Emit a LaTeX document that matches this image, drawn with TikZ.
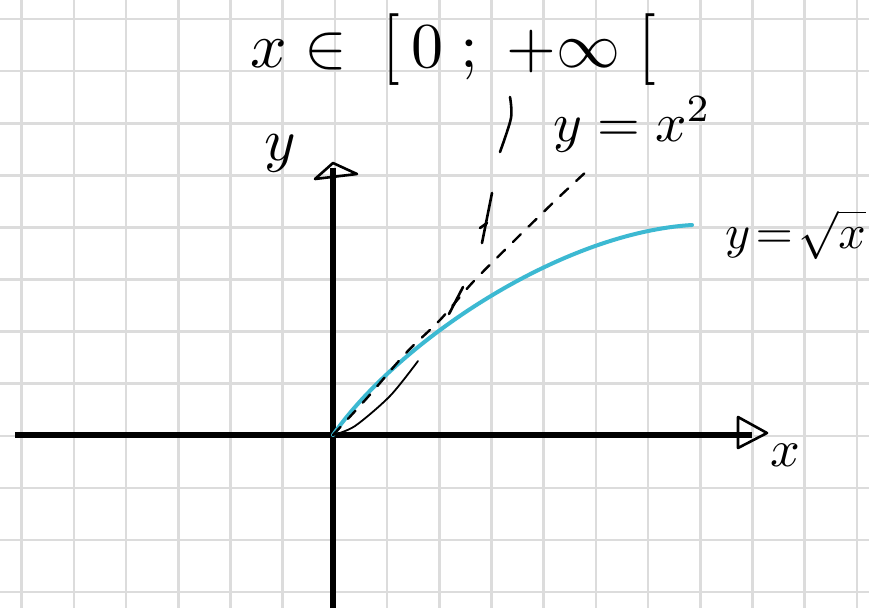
\documentclass[tikz,border=0pt]{standalone}
\usepackage{graphicx}
\definecolor{gridgray}{RGB}{220,220,220}
\definecolor{curveblue}{RGB}{60,185,210}
\newcommand{\tallbr}{\mathopen{\scalebox{1}[1.12]{$[$}}}
\newcommand{\tallbrc}{\mathclose{\scalebox{1}[1.12]{$[$}}}
\tikzset{
  gridline/.style={draw=gridgray,line width=2.6pt},
  axisline/.style={draw=black,line width=5.5pt},
  tipline/.style={draw=black,line width=2.6pt,line join=round,line cap=round},
  penline/.style={draw=black,line width=2.6pt,line cap=round,line join=round},
  thinpen/.style={draw=black,line width=1.8pt,line cap=round},
  sqrtcurve/.style={draw=curveblue,line width=4pt,line cap=round},
  dashcurve/.style={draw=black,line width=2.4pt,line cap=round,dash pattern=on 11pt off 11pt},
  lbl/.style={inner sep=0pt,outer sep=0pt,text=black},
}
\begin{document}
\begin{tikzpicture}[x=1pt,y=-1pt]
\useasboundingbox (0,0) rectangle (869,608);
\fill[white] (0,0) rectangle (869,608);
% grid
\foreach \k in {0,...,16} {
  \draw[gridline] ({21.7+52.2*\k},0) -- ({21.7+52.2*\k},608);
}
\foreach \k in {0,...,11} {
  \draw[gridline] (0,{19+52.1*\k}) -- (869,{19+52.1*\k});
}
% coordinates
\coordinate (O) at (333,435);
\coordinate (xstart) at (15,435);
\coordinate (xend) at (752,435);
\coordinate (ybot) at (333,608);
\coordinate (ytop) at (333,168);
\coordinate (sqend) at (692,225);
% axes
\draw[axisline] (xstart) -- (xend);
\draw[axisline] (ybot) -- (ytop);
% arrow tips (hand drawn open triangles)
\draw[tipline] (738,417) -- (767,433) -- (738,448) -- cycle;
\draw[tipline] (315,179) -- (333,163) -- (357,174) -- cycle;
% y = sqrt(x)
\draw[sqrtcurve] (O) .. controls (398,342) and (560,233) .. (sqend);
% dashed curve
\draw[dashcurve] plot[smooth] coordinates {(333,435) (367,398) (406,353) (440,320) (473,282) (518,237) (558,198) (588,170)};
% thin solid curve near origin
\draw[thinpen] plot[smooth] coordinates {(333,435) (355,426) (390,396) (418,361)};
% steep pen strokes
\draw[penline] (449,314) -- (463,287);
\draw[penline] (492,193) -- (482,243);
\draw[penline] (480,228) -- (487,223);
\draw[penline] plot[smooth] coordinates {(510,97) (511,118) (500,152)};
% labels
\node[lbl,anchor=base west] (dom) at (250,67) {\scalebox{6.4}{$x\in\;\tallbr\,0\;;\;+\infty\;\tallbrc$}};
\node[lbl,anchor=base west] (ylab) at (264,160) {\scalebox{6}{$y$}};
\node[lbl] (xlab) at (785,455) {\scalebox{5.2}{$x$}};
\node[lbl,anchor=base west] (parab) at (553,141) {\scalebox{5.5}{$y=x^2$}};
\node[lbl,anchor=base west] (rootlab) at (725,248) {\scalebox{4.8}{$y\!=\!\sqrt{x}$}};
\end{tikzpicture}
\end{document}
